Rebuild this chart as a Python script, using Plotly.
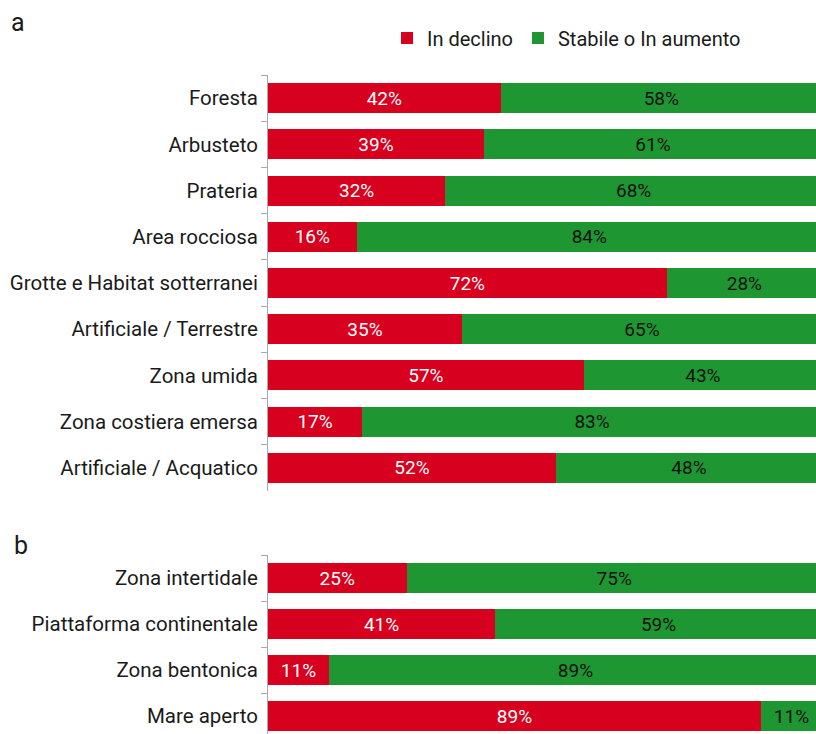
import plotly.graph_objects as go

cats_a = ["Foresta", "Arbusteto", "Prateria", "Area rocciosa", "Grotte e Habitat sotterranei",
          "Artificiale / Terrestre", "Zona umida", "Zona costiera emersa", "Artificiale / Acquatico"]
decl_a = [42, 39, 32, 16, 72, 35, 57, 17, 52]
stab_a = [58, 61, 68, 84, 28, 65, 43, 83, 48]

cats_b = ["Zona intertidale", "Piattaforma continentale", "Zona bentonica", "Mare aperto"]
decl_b = [25, 41, 11, 89]
stab_b = [75, 59, 89, 11]

RED = "#d7001e"
GREEN = "#1e9632"
FONT = "Roboto"
FS = 19
FS_TICK = 20.5
FS_LEG = 20
W, H = 816, 734

fig = go.Figure()
for cats, dec, stab, xa, ya, show in [(cats_a, decl_a, stab_a, "x", "y", True),
                                      (cats_b, decl_b, stab_b, "x2", "y2", False)]:
    fig.add_trace(go.Bar(y=cats, x=dec, orientation="h", name="In declino",
                         marker=dict(color=RED, line=dict(width=0)),
                         texttemplate="%{x}%", textposition="inside", insidetextanchor="middle",
                         textfont=dict(color="white", size=FS, family=FONT),
                         xaxis=xa, yaxis=ya, showlegend=show, legendgroup="d",
                         hoverinfo="skip"))
    fig.add_trace(go.Bar(y=cats, x=stab, orientation="h", name="Stabile o In aumento",
                         marker=dict(color=GREEN, line=dict(width=0)),
                         texttemplate="%{x}%", textposition="inside", insidetextanchor="middle",
                         textfont=dict(color="#111111", size=FS, family=FONT),
                         xaxis=xa, yaxis=ya, showlegend=show, legendgroup="s",
                         hoverinfo="skip"))

L = 268
pw = W - L
XMAX = 100 * pw / 554
ax_common = dict(type="category", tickson="boundaries", ticks="outside", ticklen=6,
                 tickcolor="#aaaaaa", showline=True, linecolor="#aaaaaa", linewidth=1,
                 ticklabelstandoff=5,
                 showgrid=False, zeroline=False, tickfont=dict(size=FS_TICK, color="#1a1a1a", family=FONT))

fig.update_layout(
    width=W, height=H,
    margin=dict(l=L, r=0, t=0, b=0),
    plot_bgcolor="white", paper_bgcolor="white",
    barmode="stack", bargap=0.35,
    font=dict(family=FONT, size=FS, color="#1a1a1a"),
    xaxis=dict(domain=[0, 1], range=[0, XMAX], visible=False, anchor="y"),
    xaxis2=dict(domain=[0, 1], range=[0, XMAX], visible=False, anchor="y2"),
    yaxis=dict(domain=[1 - 491 / H, 1 - 75 / H], range=[8.5, -0.5],
               categoryarray=cats_a, categoryorder="array", anchor="x", **ax_common),
    yaxis2=dict(domain=[0, 1 - 555 / H], range=[-0.5 + 179 / 46, -0.5],
                categoryarray=cats_b, categoryorder="array", anchor="x2", **ax_common),
    legend=dict(orientation="h", x=(387 - L) / pw, xanchor="left", y=1 - 38 / H, yanchor="middle",
                font=dict(size=FS_LEG, family=FONT, color="#1a1a1a"), itemwidth=30,
                traceorder="normal"),
    annotations=[
        dict(text="a", xref="paper", yref="paper", x=(9 - L) / pw, y=1 - 22 / H,
             xanchor="left", yanchor="middle", showarrow=False, font=dict(size=25, family=FONT, color="#1a1a1a")),
        dict(text="b", xref="paper", yref="paper", x=(12 - L) / pw, y=1 - 545 / H,
             xanchor="left", yanchor="middle", showarrow=False, font=dict(size=25, family=FONT, color="#1a1a1a")),
    ],
)

fig.write_html("out.html", config={"displayModeBar": False},
               post_script="document.body.style.margin='0';document.body.style.overflow='hidden';")
